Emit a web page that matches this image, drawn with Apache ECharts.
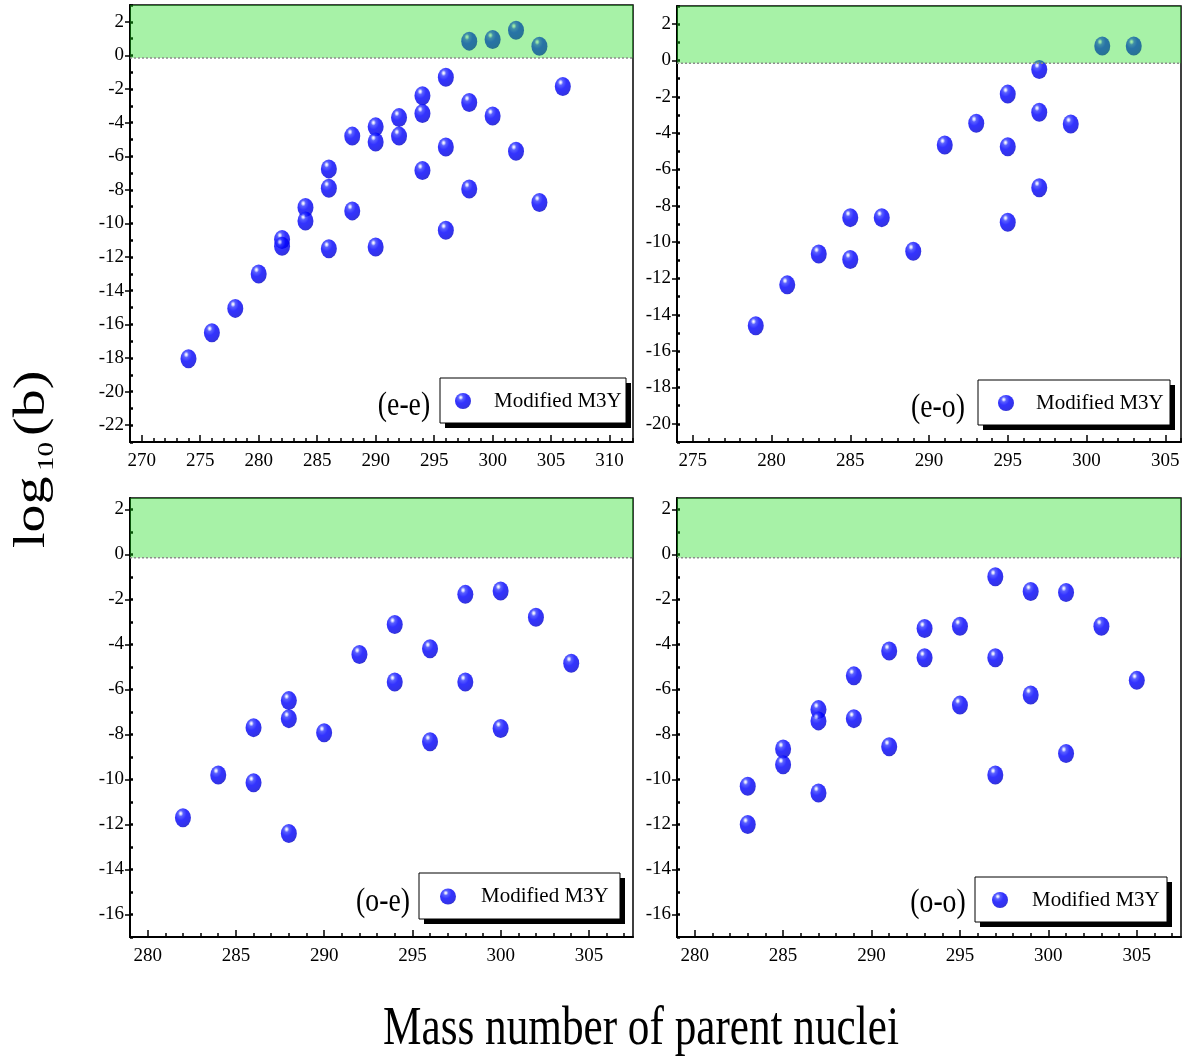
<!DOCTYPE html>
<html>
<head>
<meta charset="utf-8">
<title>log10(b) vs mass number of parent nuclei</title>
<script src="https://cdn.jsdelivr.net/npm/echarts@6/dist/echarts.min.js"></script>
<style>
  html, body { margin: 0; padding: 0; background: #fff; }
  #main { width: 1188px; height: 1063px; }
</style>
</head>
<body>
<div id="main"></div>
<script>
// (e-e)
const eeMass = [274, 276, 278, 280, 282, 282, 284, 284, 286, 286, 286, 288, 288, 290, 290, 290, 292, 292,
  294, 294, 294, 296, 296, 296, 298, 298, 298, 300, 300, 302, 302, 304, 304, 306]
const eeLog = [-18.05, -16.5, -15.05, -13.0, -10.95, -11.35, -9.05, -9.85, -6.75, -7.9, -11.5, -4.8, -9.25,
  -4.25, -5.15, -11.4, -3.7, -4.8, -2.4, -3.45, -6.85, -1.3, -5.45, -10.4, 0.85, -2.8, -7.95, 0.95, -3.6,
  1.5, -5.7, 0.55, -8.75, -1.85]
// (e-o)
const eoMass = [279, 281, 283, 285, 285, 287, 289, 291, 293, 295, 295, 295, 297, 297, 297, 299, 301, 303]
const eoLog = [-14.6, -12.35, -10.65, -8.65, -10.95, -8.65, -10.5, -4.65, -3.45, -1.85, -4.75, -8.9,
  -0.5, -2.85, -7.0, -3.5, 0.8, 0.8]
// (o-e)
const oeMass = [282, 284, 286, 286, 288, 288, 288, 290, 292, 294, 294, 296, 296, 298, 298, 300, 300, 302, 304]
const oeLog = [-11.7, -9.8, -7.7, -10.15, -6.5, -7.3, -12.4, -7.93, -4.45, -3.12, -5.67, -4.2, -8.33,
  -1.78, -5.67, -1.63, -7.74, -2.8, -4.84]
// (o-o)
const ooMass = [283, 283, 285, 285, 287, 287, 287, 289, 289, 291, 291, 293, 293, 295, 295, 297, 297, 297,
  299, 299, 301, 301, 303, 305]
const ooLog = [-10.3, -12.0, -8.65, -9.35, -6.9, -7.4, -10.6, -5.4, -7.3, -4.3, -8.55, -3.3, -4.6, -3.2,
  -6.7, -1.0, -4.6, -9.8, -1.65, -6.25, -1.7, -8.85, -3.2, -5.6]

// tick labels
const xTicksEE = [270, 275, 280, 285, 290, 295, 300, 305, 310]
const xTicksEO = [275, 280, 285, 290, 295, 300, 305]
const xTicksO = [280, 285, 290, 295, 300, 305]
const yTicksEE = [2, 0, -2, -4, -6, -8, -10, -12, -14, -16, -18, -20, -22]
const yTicksEO = [2, 0, -2, -4, -6, -8, -10, -12, -14, -16, -18, -20]
const yTicksO = [2, 0, -2, -4, -6, -8, -10, -12, -14, -16]

// lower edge of the green band (log10 b)
const bandLow = -0.15

const seriesName = 'Modified M3Y'
const FONT = "'Liberation Serif', 'Times New Roman', serif"

const panels = [
  { tag: '(e-e)', mass: eeMass, logb: eeLog, xMin: 269, xMax: 312, yMin: -23, yMax: 3, xTicks: xTicksEE, yTicks: yTicksEE },
  { tag: '(e-o)', mass: eoMass, logb: eoLog, xMin: 274, xMax: 306, yMin: -21, yMax: 3, xTicks: xTicksEO, yTicks: yTicksEO },
  { tag: '(o-e)', mass: oeMass, logb: oeLog, xMin: 279, xMax: 307.5, yMin: -17, yMax: 2.5, xTicks: xTicksO, yTicks: yTicksO },
  { tag: '(o-o)', mass: ooMass, logb: ooLog, xMin: 279, xMax: 307.5, yMin: -17, yMax: 2.5, xTicks: xTicksO, yTicks: yTicksO }
]

// layout (pixels)
const gridBoxes = [
  { left: 130, top: 5, width: 503, height: 437 },
  { left: 677, top: 6, width: 504, height: 436 },
  { left: 130, top: 498, width: 503, height: 439 },
  { left: 677, top: 498, width: 504, height: 439 }
]
// legend frame: box x, y, w, h; icon left; gap icon -> text
const legendBoxes = [
  { x: 440, y: 378, w: 186, h: 45, icon: 455, gap: 18 },
  { x: 978, y: 380, w: 192, h: 45, icon: 998, gap: 17 },
  { x: 419, y: 873, w: 201, h: 46, icon: 440, gap: 20 },
  { x: 975, y: 877, w: 192, h: 45, icon: 992, gap: 19 }
]
const tagPos = [[404, 406], [938, 408], [383, 902], [938, 903]]

function integers (a, b) {
  const out = []
  for (let v = Math.ceil(a); v <= Math.floor(b); v++) out.push(v)
  return out
}

// shiny sphere look of the markers
const sphere = {
  type: 'radial',
  x: 0.36,
  y: 0.28,
  r: 0.8,
  colorStops: [
    { offset: 0, color: '#ffffff' },
    { offset: 0.07, color: '#d4d8ff' },
    { offset: 0.2, color: '#3038ff' },
    { offset: 0.45, color: '#0000ff' },
    { offset: 0.85, color: '#0000e0' },
    { offset: 1, color: '#00009c' }
  ]
}

const grid = []
const xAxis = []
const yAxis = []
const series = []
const legend = []
const graphic = []

panels.forEach(function (p, i) {
  grid.push(Object.assign({ show: true, borderColor: '#000', borderWidth: 1.5, backgroundColor: '#fff' }, gridBoxes[i]))

  // main x axis: labels and major ticks
  xAxis.push({
    type: 'value',
    gridIndex: i,
    position: 'bottom',
    min: p.xMin,
    max: p.xMax,
    axisLine: { show: true, onZero: false, lineStyle: { color: '#000', width: 2 } },
    axisTick: { show: true, inside: true, length: 7, customValues: p.xTicks, lineStyle: { color: '#000', width: 1.5 } },
    axisLabel: { customValues: p.xTicks, color: '#000', fontFamily: FONT, fontSize: 19, margin: 10 },
    splitLine: { show: false }
  })
  // minor x ticks
  xAxis.push({
    type: 'value',
    gridIndex: i,
    position: 'bottom',
    min: p.xMin,
    max: p.xMax,
    axisLine: { show: false, onZero: false },
    axisTick: { show: true, inside: true, length: 4, customValues: integers(p.xMin, p.xMax), lineStyle: { color: '#000', width: 1.5 } },
    axisLabel: { show: false },
    splitLine: { show: false }
  })
  yAxis.push({
    type: 'value',
    gridIndex: i,
    position: 'left',
    min: p.yMin,
    max: p.yMax,
    axisLine: { show: true, onZero: false, lineStyle: { color: '#000', width: 2 } },
    axisTick: { show: true, inside: false, length: 5, customValues: p.yTicks, lineStyle: { color: '#000', width: 1.5 } },
    axisLabel: { customValues: p.yTicks, color: '#000', fontFamily: FONT, fontSize: 19, margin: 6 },
    splitLine: { show: false }
  })
  yAxis.push({
    type: 'value',
    gridIndex: i,
    position: 'left',
    min: p.yMin,
    max: p.yMax,
    axisLine: { show: false, onZero: false },
    axisTick: { show: true, inside: true, length: 3, customValues: integers(p.yMin, p.yMax), lineStyle: { color: '#000', width: 2.5 } },
    axisLabel: { show: false },
    splitLine: { show: false }
  })

  series.push({
    name: seriesName,
    type: 'scatter',
    xAxisIndex: 2 * i,
    yAxisIndex: 2 * i,
    symbol: 'circle',
    symbolSize: [16, 19],
    itemStyle: { color: sphere },
    data: p.mass.map(function (m, k) { return [m, p.logb[k]] }),
    z: 2
  })

  // translucent green band above log10(b) = 0, drawn over the points
  series.push({
    name: 'band',
    type: 'custom',
    xAxisIndex: 2 * i,
    yAxisIndex: 2 * i,
    silent: true,
    z: 5,
    data: [[p.xMin, bandLow, p.yMax]],
    renderItem: function (params, api) {
      const cs = params.coordSys
      const top = api.coord([api.value(0), api.value(2)])[1]
      const bottom = api.coord([api.value(0), api.value(1)])[1]
      return {
        type: 'group',
        children: [
          {
            type: 'rect',
            shape: { x: cs.x, y: top, width: cs.width, height: bottom - top },
            style: { fill: 'rgba(24,222,24,0.38)' }
          },
          {
            type: 'line',
            shape: { x1: cs.x, y1: bottom, x2: cs.x + cs.width, y2: bottom },
            style: { stroke: '#8c8c8c', lineWidth: 1.5, lineDash: [2, 2] }
          }
        ]
      }
    }
  })

  const lb = legendBoxes[i]
  // legend frame with a hard black drop shadow
  graphic.push({
    type: 'rect',
    z: 3,
    silent: true,
    shape: { x: lb.x + 5, y: lb.y + 5, width: lb.w, height: lb.h },
    style: { fill: '#000' }
  })
  graphic.push({
    type: 'rect',
    z: 3,
    silent: true,
    shape: { x: lb.x, y: lb.y, width: lb.w, height: lb.h },
    style: { fill: '#fff', stroke: '#000', lineWidth: 1 }
  })
  legend.push({
    data: [seriesName],
    left: lb.icon,
    top: lb.y + lb.h / 2 - 10,
    orient: 'vertical',
    padding: 0,
    itemWidth: 16,
    itemHeight: 19,
    selectedMode: false,
    z: 6,
    formatter: '{t|{name}}',
    textStyle: {
      rich: { t: { fontFamily: FONT, fontSize: 21, lineHeight: 24, color: '#000', padding: [0, 0, 0, lb.gap] } }
    }
  })

  graphic.push({
    type: 'text',
    x: tagPos[i][0],
    y: tagPos[i][1],
    scaleX: 0.84,
    style: { text: p.tag, fontFamily: FONT, fontSize: 33, fill: '#000', textAlign: 'center', textVerticalAlign: 'middle' }
  })
})

// y-axis title: log10 (b), reading bottom to top
graphic.push({
  type: 'group',
  x: 35,
  y: 458,
  rotation: Math.PI / 2,
  children: [
    { type: 'text', x: -90, y: -3, scaleY: 0.8, style: { text: 'log', fontFamily: FONT, fontSize: 56, fill: '#000', textAlign: 'left', textVerticalAlign: 'middle' } },
    { type: 'text', x: -13, y: 12, scaleY: 0.82, style: { text: '10', fontFamily: FONT, fontSize: 29, fill: '#000', textAlign: 'left', textVerticalAlign: 'middle' } },
    { type: 'text', x: 22, y: -3, scaleY: 0.8, style: { text: '(b)', fontFamily: FONT, fontSize: 56, fill: '#000', textAlign: 'left', textVerticalAlign: 'middle' } }
  ]
})
// x-axis title
graphic.push({
  type: 'text',
  x: 641,
  y: 1030,
  scaleX: 0.8,
  style: { text: 'Mass number of parent nuclei', fontFamily: FONT, fontSize: 54, fill: '#000', textAlign: 'center', textVerticalAlign: 'middle' }
})

const chart = echarts.init(document.getElementById('main'), null, { renderer: 'canvas' })
chart.setOption({
  backgroundColor: '#fff',
  animation: false,
  grid: grid,
  xAxis: xAxis,
  yAxis: yAxis,
  legend: legend,
  series: series,
  graphic: graphic
})
</script>
</body>
</html>
